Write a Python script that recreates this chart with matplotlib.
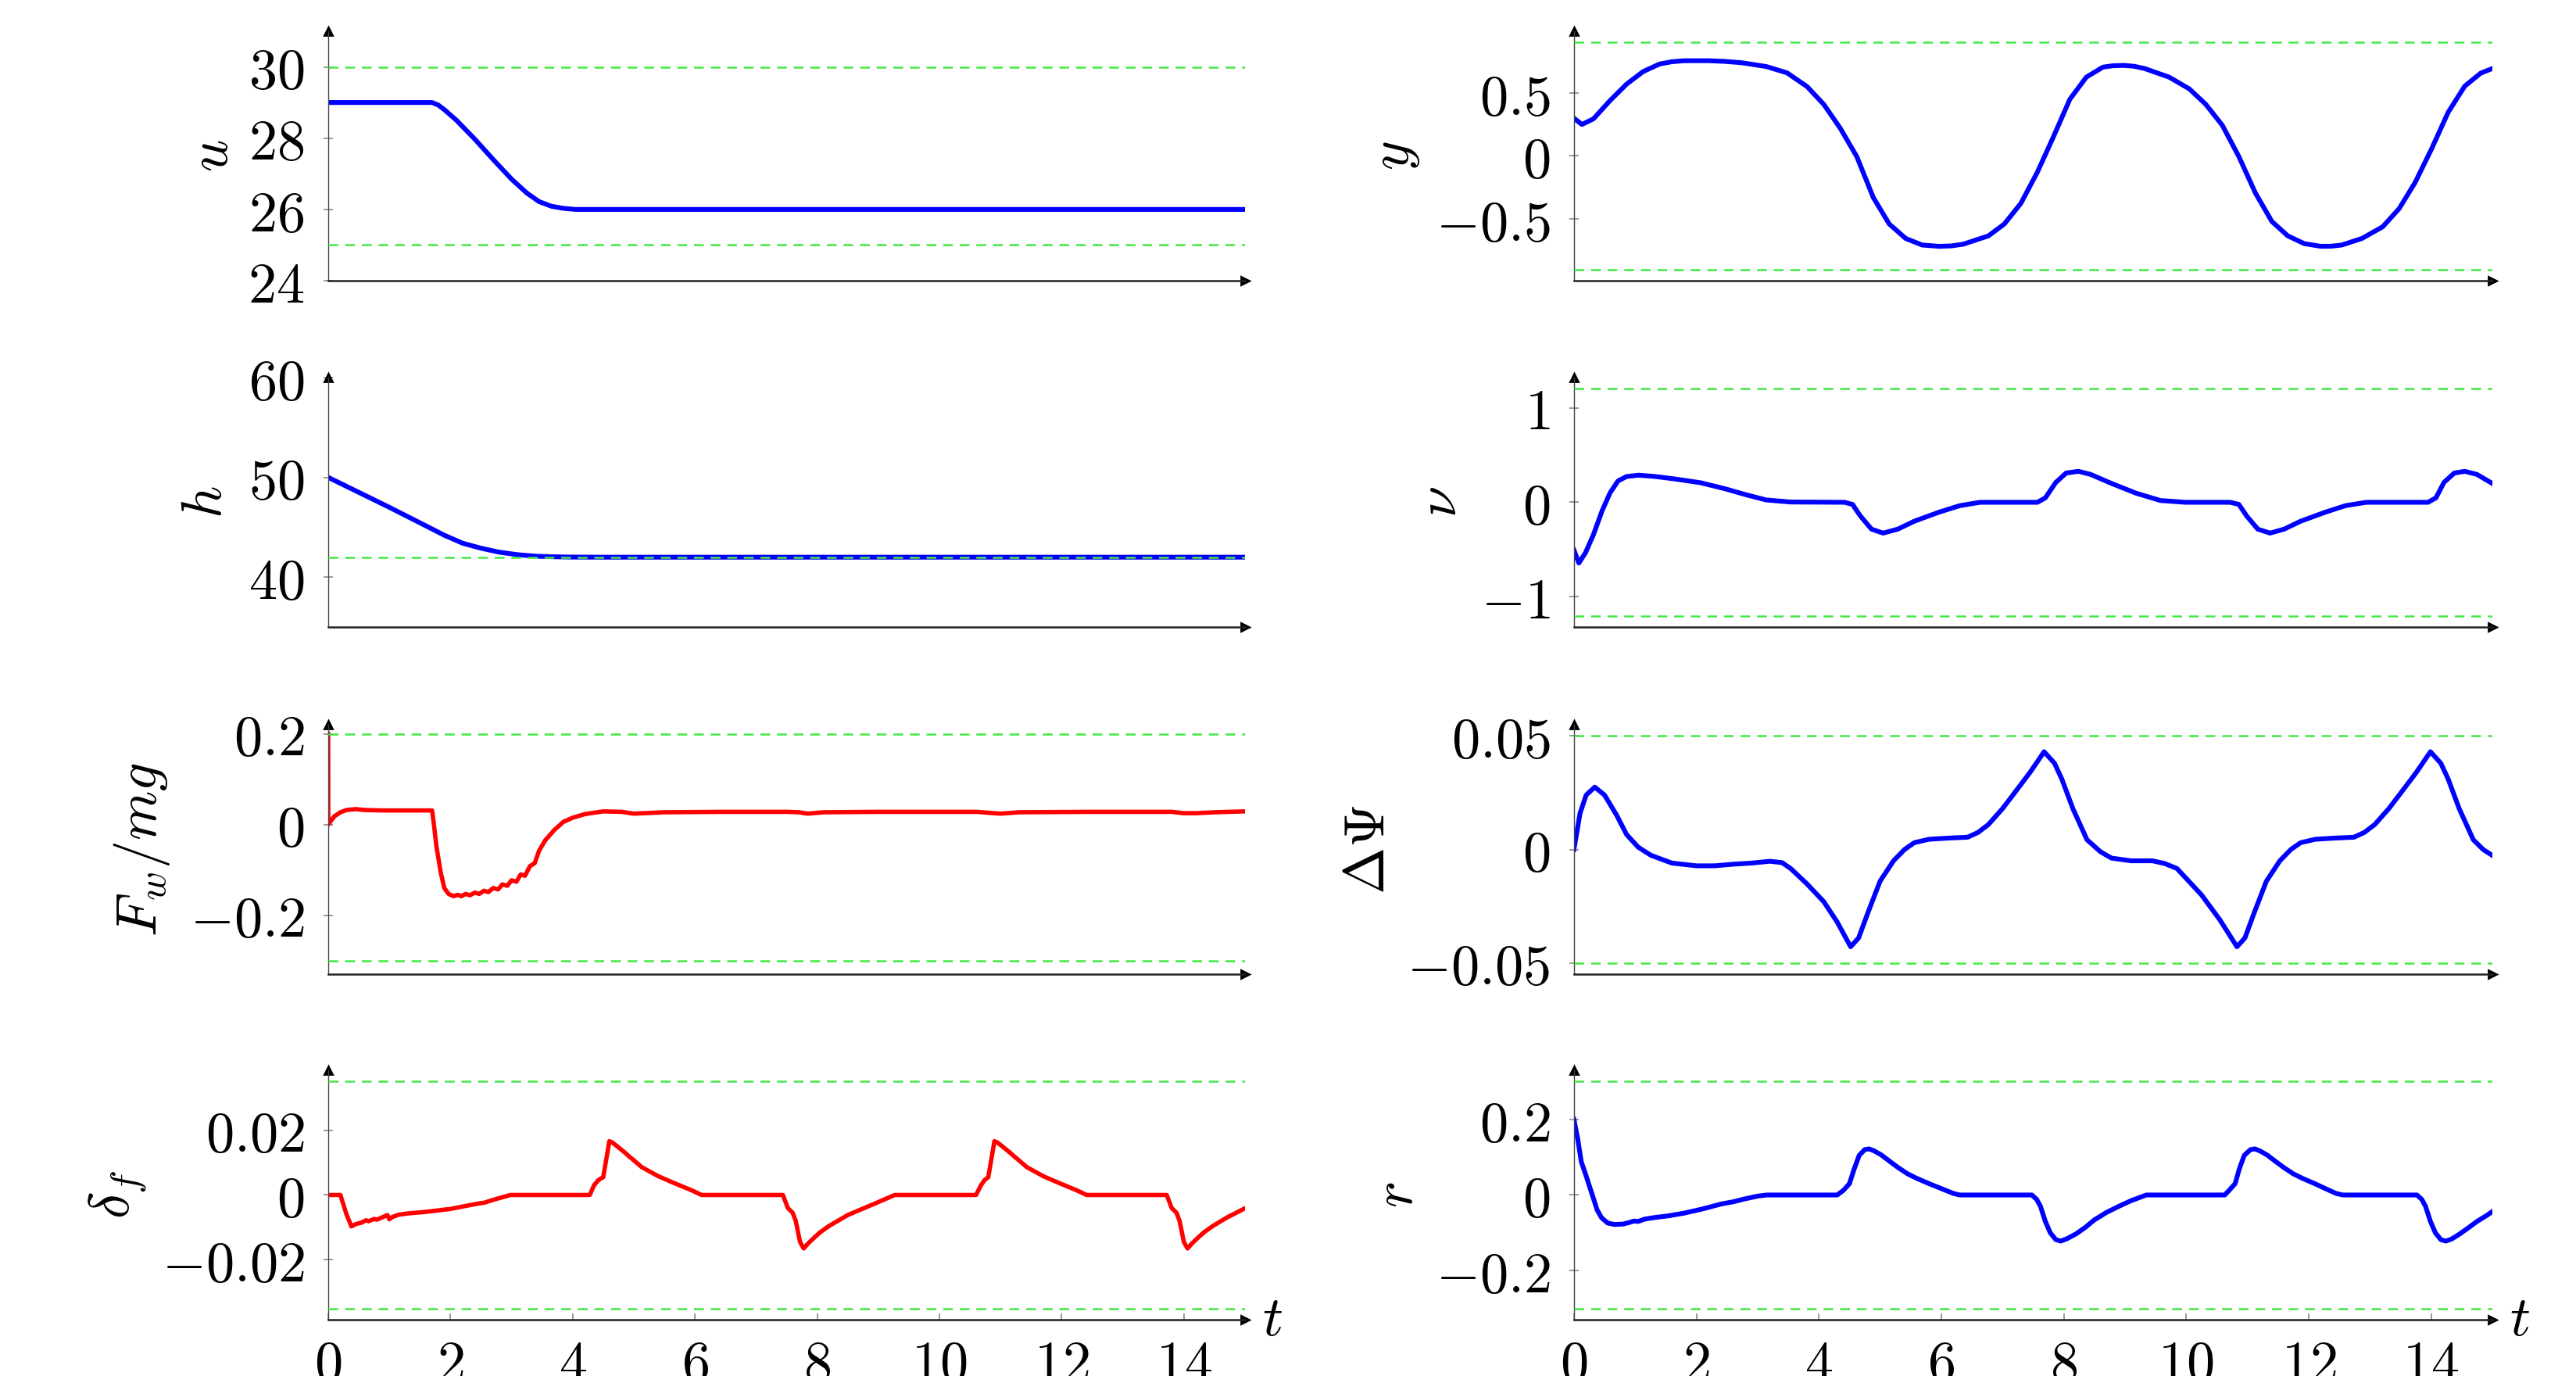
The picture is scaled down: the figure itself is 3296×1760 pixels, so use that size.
import numpy as np
import matplotlib.pyplot as plt
from matplotlib.ticker import FuncFormatter

plt.rcParams['mathtext.fontset'] = 'cm'
plt.rcParams['font.family'] = 'serif'

# --- data ---
u_t = [0, 1.7, 1.8, 1.9, 2.1, 2.4, 2.7, 3.0, 3.25, 3.45, 3.65, 3.85, 4.05, 4.3, 15]
u_v = [29, 29, 28.93, 28.8, 28.5, 27.97, 27.4, 26.85, 26.46, 26.22, 26.09, 26.03, 26.0, 26.0, 26.0]

h_t = [0, 0.5, 1.0, 1.5, 1.9, 2.2, 2.5, 2.8, 3.1, 3.4, 3.7, 4.0, 4.5, 15]
h_v = [50, 48.5, 47.0, 45.45, 44.2, 43.4, 42.9, 42.5, 42.25, 42.1, 42.04, 42.01, 42.0, 42.0]

fw_t = [0, 0.001, 0.1, 0.2, 0.3, 0.45, 0.6, 0.9, 1.3, 1.7, 1.73, 1.77, 1.84, 1.9, 1.97, 2.05,
        2.12, 2.18, 2.25, 2.32, 2.4, 2.47, 2.55, 2.62, 2.7, 2.78, 2.85, 2.93, 3.0, 3.08,
        3.15, 3.22, 3.3, 3.38, 3.45, 3.55, 3.7, 3.85, 4.0, 4.2, 4.5, 4.8, 5.0, 5.5, 6.5,
        7.5, 7.7, 7.85, 8.1, 9.0, 10.6, 10.8, 11.0, 11.3, 12.5, 13.8, 14.0, 14.2, 14.5, 15]
fw_v = [0.2, 0.0, 0.018, 0.027, 0.032, 0.034, 0.032, 0.031, 0.031, 0.031, 0.0, -0.047,
        -0.105, -0.14, -0.153, -0.158, -0.155, -0.158, -0.153, -0.156, -0.15, -0.153,
        -0.146, -0.149, -0.14, -0.143, -0.132, -0.135, -0.123, -0.126, -0.11, -0.113,
        -0.092, -0.085, -0.058, -0.035, -0.012, 0.006, 0.015, 0.023, 0.029, 0.028, 0.024,
        0.027, 0.028, 0.028, 0.027, 0.024, 0.027, 0.028, 0.028, 0.026, 0.024, 0.027,
        0.028, 0.028, 0.025, 0.025, 0.027, 0.029]

df_t = [0, 0.2, 0.25, 0.3, 0.38, 0.45, 0.55, 0.62, 0.66, 0.75, 0.8, 0.92, 0.97, 1.0, 1.05,
        1.15, 1.3, 1.6, 2.0, 2.3, 2.5, 2.55, 2.7, 2.98, 4.28, 4.35, 4.42, 4.5, 4.55, 4.6,
        4.65, 4.73, 4.86, 4.93, 4.97, 5.13, 5.4, 5.67, 5.94, 6.11, 7.44, 7.52, 7.6, 7.65,
        7.72, 7.78, 7.85, 7.95, 8.05, 8.2, 8.5, 8.9, 9.27, 10.6, 10.68, 10.74, 10.8, 10.85,
        10.9, 10.95, 11.03, 11.16, 11.23, 11.27, 11.43, 11.7, 11.97, 12.24, 12.41, 13.72,
        13.8, 13.88, 13.93, 14.0, 14.06, 14.13, 14.23, 14.33, 14.48, 14.7, 15]
df_v = [0, 0, -0.003, -0.006, -0.0097, -0.009, -0.0085, -0.0078, -0.0081, -0.0074, -0.0076,
        -0.0066, -0.0062, -0.0075, -0.0068, -0.0061, -0.0057, -0.0052, -0.0043, -0.0032,
        -0.0025, -0.0024, -0.0015, 0, 0, 0.003, 0.0046, 0.0055, 0.011, 0.0166, 0.0162,
        0.015, 0.013, 0.0118, 0.0112, 0.0086, 0.0058, 0.0036, 0.0015, 0, 0, -0.004,
        -0.0055, -0.008, -0.0145, -0.0165, -0.015, -0.0132, -0.0115, -0.0095, -0.0062,
        -0.003, 0, 0, 0.003, 0.0046, 0.0055, 0.011, 0.0166, 0.0162, 0.015, 0.013, 0.0118,
        0.0112, 0.0086, 0.0058, 0.0036, 0.0015, 0, 0, -0.004, -0.0055, -0.008, -0.0145,
        -0.0165, -0.015, -0.0132, -0.0115, -0.0095, -0.007, -0.0041]

y_t = [0, 0.13, 0.32, 0.59, 0.86, 1.13, 1.4, 1.6, 1.8, 2.2, 2.45, 2.74, 3.14, 3.48, 3.81,
       4.08, 4.35, 4.62, 4.89, 5.15, 5.42, 5.69, 5.96, 6.16, 6.36, 6.77, 7.03, 7.3, 7.57,
       7.84, 8.1, 8.37, 8.64, 8.8, 8.98, 9.15, 9.32, 9.72, 10.05, 10.32, 10.59, 10.86,
       11.13, 11.4, 11.66, 11.93, 12.2, 12.37, 12.54, 12.87, 13.21, 13.48, 13.74, 14.01,
       14.28, 14.55, 14.81, 15]
y_v = [0.30, 0.25, 0.295, 0.44, 0.57, 0.67, 0.73, 0.748, 0.756, 0.756, 0.751, 0.74, 0.71,
       0.66, 0.55, 0.41, 0.22, -0.005, -0.33, -0.54, -0.655, -0.707, -0.717, -0.714, -0.70,
       -0.634, -0.54, -0.376, -0.128, 0.161, 0.45, 0.626, 0.705, 0.716, 0.719, 0.712,
       0.694, 0.626, 0.533, 0.41, 0.244, -0.004, -0.293, -0.52, -0.634, -0.696, -0.717,
       -0.716, -0.707, -0.655, -0.562, -0.417, -0.21, 0.058, 0.347, 0.554, 0.657, 0.694]

nu_t = [0, 0.08, 0.19, 0.32, 0.46, 0.59, 0.72, 0.86, 1.06, 1.33, 1.66, 2.07, 2.47, 2.81,
        3.14, 3.54, 4.42, 4.55, 4.68, 4.86, 5.05, 5.29, 5.56, 5.96, 6.3, 6.63, 7.57, 7.7,
        7.87, 8.04, 8.24, 8.44, 8.78, 9.18, 9.58, 9.99, 10.72, 10.86, 10.99, 11.17, 11.37,
        11.6, 11.87, 12.27, 12.6, 12.94, 13.95, 14.08, 14.21, 14.38, 14.55, 14.75, 15]
nu_v = [-0.505, -0.643, -0.532, -0.34, -0.09, 0.10, 0.226, 0.273, 0.287, 0.273, 0.246,
        0.207, 0.143, 0.08, 0.025, 0.003, 0.0, -0.022, -0.146, -0.284, -0.326, -0.284,
        -0.2, -0.105, -0.036, 0.0, 0.0, 0.047, 0.21, 0.31, 0.328, 0.295, 0.2, 0.097, 0.019,
        0.0, 0.0, -0.022, -0.146, -0.284, -0.326, -0.284, -0.2, -0.105, -0.036, 0.0, 0.0,
        0.047, 0.21, 0.31, 0.328, 0.295, 0.2]

dpsi_t = [0, 0.1, 0.2, 0.34, 0.5, 0.7, 0.86, 1.05, 1.26, 1.6, 2.0, 2.3, 2.6, 2.9, 3.2, 3.4,
          3.54, 3.8, 4.08, 4.3, 4.52, 4.65, 4.8, 5.0, 5.22, 5.4, 5.56, 5.8, 6.1, 6.43, 6.6,
          6.77, 7.0, 7.17, 7.45, 7.68, 7.85, 7.97, 8.15, 8.38, 8.6, 8.78, 9.1, 9.45, 9.65,
          9.85, 10.25, 10.55, 10.83, 10.96, 11.11, 11.31, 11.53, 11.71, 11.87, 12.11,
          12.41, 12.74, 12.91, 13.08, 13.31, 13.48, 13.76, 13.99, 14.16, 14.28, 14.46,
          14.69, 14.85, 15]
dpsi_v = [0, 0.016, 0.024, 0.0275, 0.024, 0.015, 0.0066, 0.001, -0.0026, -0.006, -0.0072,
          -0.0072, -0.0065, -0.006, -0.0052, -0.0058, -0.0084, -0.015, -0.023, -0.032,
          -0.0429, -0.039, -0.028, -0.014, -0.005, 0.0, 0.003, 0.0045, 0.005, 0.0054,
          0.0075, 0.011, 0.018, 0.024, 0.034, 0.0431, 0.038, 0.031, 0.018, 0.0043, -0.001,
          -0.0038, -0.005, -0.005, -0.0062, -0.0084, -0.02, -0.031, -0.0429, -0.039,
          -0.028, -0.014, -0.005, 0.0, 0.003, 0.0045, 0.005, 0.0054, 0.0075, 0.011, 0.018,
          0.024, 0.034, 0.0431, 0.038, 0.031, 0.018, 0.0043, 0.0, -0.0026]

r_t = [0, 0.06, 0.12, 0.2, 0.3, 0.38, 0.45, 0.55, 0.66, 0.8, 0.9, 0.98, 1.05, 1.15, 1.3,
       1.55, 1.8, 2.1, 2.4, 2.6, 2.8, 3.0, 3.15, 4.3, 4.4, 4.5, 4.58, 4.66, 4.75, 4.82, 4.9,
       5.02, 5.15, 5.3, 5.45, 5.6, 5.8, 6.0, 6.2, 6.3, 7.48, 7.56, 7.62, 7.7, 7.78, 7.87,
       7.95, 8.05, 8.2, 8.35, 8.5, 8.7, 8.9, 9.1, 9.35, 10.63, 10.7, 10.8, 10.87, 10.95,
       11.05, 11.12, 11.2, 11.32, 11.45, 11.6, 11.75, 11.9, 12.1, 12.3, 12.45, 12.56, 13.77,
       13.85, 13.91, 13.99, 14.07, 14.16, 14.24, 14.33, 14.45, 14.6, 14.75, 14.9, 15]
r_v = [0.2, 0.15, 0.088, 0.05, 0.0, -0.04, -0.06, -0.074, -0.078, -0.077, -0.073, -0.069,
       -0.07, -0.064, -0.06, -0.055, -0.048, -0.037, -0.024, -0.018, -0.01, -0.003, 0.0, 0,
       0.012, 0.03, 0.07, 0.105, 0.12, 0.122, 0.117, 0.106, 0.09, 0.072, 0.056, 0.044,
       0.03, 0.017, 0.004, 0, 0, -0.012, -0.03, -0.07, -0.1, -0.118, -0.122, -0.116,
       -0.103, -0.086, -0.066, -0.046, -0.03, -0.015, 0, 0, 0.012, 0.03, 0.07, 0.105, 0.12,
       0.122, 0.117, 0.106, 0.09, 0.072, 0.056, 0.044, 0.03, 0.015, 0.004, 0, 0, -0.012,
       -0.03, -0.07, -0.1, -0.118, -0.122, -0.117, -0.105, -0.088, -0.07, -0.055, -0.044]

x_ticks = [0, 2, 4, 6, 8, 10, 12, 14]

# (t, values, colour, ylim, yticks, dashed bounds, label, label x, column, row)
panels = [
    (u_t, u_v, 'blue', (24, 31), [24, 26, 28, 30], [30, 25], r'$u$', -0.127, 0, 0),
    (h_t, h_v, 'blue', (35, 60), [40, 50, 60], [42], r'$h$', -0.134, 0, 1),
    (fw_t, fw_v, 'red', (-0.33, 0.22), [-0.2, 0, 0.2], [0.2, -0.3], r'$F_w/mg$', -0.203, 0, 2),
    (df_t, df_v, 'red', (-0.0385, 0.0385), [-0.02, 0, 0.02], [0.035, -0.035], r'$\delta_f$', -0.23, 0, 3),
    (y_t, y_v, 'blue', (-0.99, 0.99), [-0.5, 0, 0.5], [0.9, -0.9], r'$y$', -0.196, 1, 0),
    (nu_t, nu_v, 'blue', (-1.32, 1.32), [-1, 0, 1], [1.2, -1.2], r'$\nu$', -0.146, 1, 1),
    (dpsi_t, dpsi_v, 'blue', (-0.055, 0.055), [-0.05, 0, 0.05], [0.05, -0.05], r'$\Delta\Psi$', -0.224, 1, 2),
    (r_t, r_v, 'blue', (-0.33, 0.33), [-0.2, 0, 0.2], [0.3, -0.3], r'$r$', -0.193, 1, 3),
]

fig = plt.figure(figsize=(16.48, 8.8), dpi=200)
FS = 26
lefts = [0.1274, 0.6110]
widths = [0.3559, 0.3565]
bottoms = [0.7960, 0.5443, 0.2920, 0.0409]
H = 0.1813

fmt = FuncFormatter(lambda v, p: '$%g$' % v)

for t, v, col, ylim, yt, bnds, lab, lx, c, r in panels:
    ax = fig.add_axes([lefts[c], bottoms[r], widths[c], H])
    ax.plot(t, v, color=col, lw=2.2 if col == 'blue' else 2.0, zorder=2,
            solid_joinstyle='round')
    for b in bnds:
        ax.axhline(b, color='#44e844', lw=0.9, dashes=(5, 3.5), zorder=3)
    ax.set_xlim(0, 15)
    ax.set_ylim(*ylim)
    ax.set_yticks(yt)
    ax.yaxis.set_major_formatter(fmt)
    ax.tick_params(axis='y', direction='inout', length=4, width=0.6, color='#888888',
                   labelsize=FS, pad=9)
    for s in ['top', 'right']:
        ax.spines[s].set_visible(False)
    ax.spines['left'].set_linewidth(0.5)
    ax.spines['left'].set_color('#444444')
    ax.spines['bottom'].set_linewidth(0.9)
    ax.spines['bottom'].set_color('#222222')
    ax.plot([0], [1], marker='^', ms=3.5, color='k', transform=ax.transAxes, clip_on=False)
    ax.plot([1], [0], marker='>', ms=3.5, color='k', transform=ax.transAxes, clip_on=False)
    ax.set_ylabel(lab, fontsize=FS, va='center')
    ax.yaxis.set_label_coords(lx, 0.5)
    if r == 3:
        ax.set_xticks(x_ticks)
        ax.xaxis.set_major_formatter(fmt)
        ax.tick_params(axis='x', direction='in', length=3, width=0.6, color='#888888',
                       labelsize=FS, pad=8)
        ax.set_xlabel(r'$t$', fontsize=FS, va='center', ha='center')
        ax.xaxis.set_label_coords(1.03, 0.0)
    else:
        ax.tick_params(axis='x', bottom=False, labelbottom=False)

fig.savefig('out.png', dpi=200)
